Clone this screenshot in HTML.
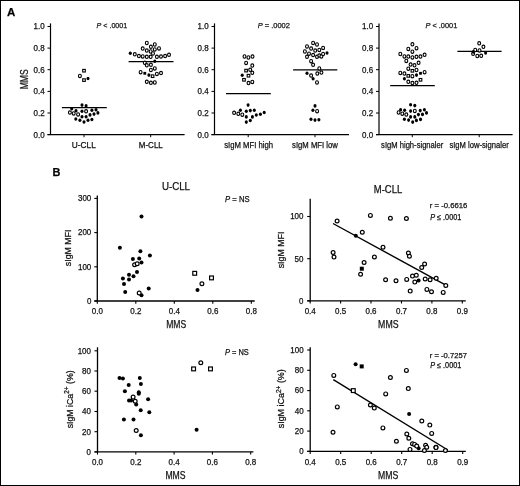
<!DOCTYPE html>
<html><head><meta charset="utf-8"><style>
html,body{margin:0;padding:0;background:#fff;}
svg{display:block;filter:grayscale(1);}
</style></head><body>
<svg width="520" height="486" viewBox="0 0 520 486" font-family='"Liberation Sans", sans-serif' fill="#111" stroke="#000">
<rect x="0" y="0" width="520" height="486" fill="#fff" stroke="none"/>
<g stroke="none">
</g>
<g>
<line x1="50.5" y1="23.4" x2="50.5" y2="134.6" stroke-width="1.2"/>
<line x1="47.5" y1="134.6" x2="184.6" y2="134.6" stroke-width="1.2"/>
<line x1="47.5" y1="134.6" x2="50.5" y2="134.6" stroke-width="1.0"/>
<text stroke="#111" stroke-width="0.25" x="44.6" y="137.5" font-size="8.6" text-anchor="end" textLength="11.1" lengthAdjust="spacingAndGlyphs">0.0</text>
<line x1="47.5" y1="113.0" x2="50.5" y2="113.0" stroke-width="1.0"/>
<text stroke="#111" stroke-width="0.25" x="44.6" y="115.9" font-size="8.6" text-anchor="end" textLength="11.1" lengthAdjust="spacingAndGlyphs">0.2</text>
<line x1="47.5" y1="91.4" x2="50.5" y2="91.4" stroke-width="1.0"/>
<text stroke="#111" stroke-width="0.25" x="44.6" y="94.3" font-size="8.6" text-anchor="end" textLength="11.1" lengthAdjust="spacingAndGlyphs">0.4</text>
<line x1="47.5" y1="69.7" x2="50.5" y2="69.7" stroke-width="1.0"/>
<text stroke="#111" stroke-width="0.25" x="44.6" y="72.6" font-size="8.6" text-anchor="end" textLength="11.1" lengthAdjust="spacingAndGlyphs">0.6</text>
<line x1="47.5" y1="48.1" x2="50.5" y2="48.1" stroke-width="1.0"/>
<text stroke="#111" stroke-width="0.25" x="44.6" y="51.0" font-size="8.6" text-anchor="end" textLength="11.1" lengthAdjust="spacingAndGlyphs">0.8</text>
<line x1="47.5" y1="26.5" x2="50.5" y2="26.5" stroke-width="1.0"/>
<text stroke="#111" stroke-width="0.25" x="44.6" y="29.4" font-size="8.6" text-anchor="end" textLength="11.1" lengthAdjust="spacingAndGlyphs">1.0</text>
<line x1="84.0" y1="134.6" x2="84.0" y2="137.2" stroke-width="1.0"/>
<text stroke="#111" stroke-width="0.25" x="83.8" y="147.9" font-size="8.6" text-anchor="middle" textLength="24.0" lengthAdjust="spacingAndGlyphs">U-CLL</text>
<line x1="150.7" y1="134.6" x2="150.7" y2="137.2" stroke-width="1.0"/>
<text stroke="#111" stroke-width="0.25" x="150.8" y="147.9" font-size="8.6" text-anchor="middle" textLength="24.0" lengthAdjust="spacingAndGlyphs">M-CLL</text>
<line x1="214.5" y1="23.4" x2="214.5" y2="134.6" stroke-width="1.2"/>
<line x1="211.5" y1="134.6" x2="349.0" y2="134.6" stroke-width="1.2"/>
<line x1="211.5" y1="134.6" x2="214.5" y2="134.6" stroke-width="1.0"/>
<text stroke="#111" stroke-width="0.25" x="208.6" y="137.5" font-size="8.6" text-anchor="end" textLength="11.1" lengthAdjust="spacingAndGlyphs">0.0</text>
<line x1="211.5" y1="113.0" x2="214.5" y2="113.0" stroke-width="1.0"/>
<text stroke="#111" stroke-width="0.25" x="208.6" y="115.9" font-size="8.6" text-anchor="end" textLength="11.1" lengthAdjust="spacingAndGlyphs">0.2</text>
<line x1="211.5" y1="91.4" x2="214.5" y2="91.4" stroke-width="1.0"/>
<text stroke="#111" stroke-width="0.25" x="208.6" y="94.3" font-size="8.6" text-anchor="end" textLength="11.1" lengthAdjust="spacingAndGlyphs">0.4</text>
<line x1="211.5" y1="69.7" x2="214.5" y2="69.7" stroke-width="1.0"/>
<text stroke="#111" stroke-width="0.25" x="208.6" y="72.6" font-size="8.6" text-anchor="end" textLength="11.1" lengthAdjust="spacingAndGlyphs">0.6</text>
<line x1="211.5" y1="48.1" x2="214.5" y2="48.1" stroke-width="1.0"/>
<text stroke="#111" stroke-width="0.25" x="208.6" y="51.0" font-size="8.6" text-anchor="end" textLength="11.1" lengthAdjust="spacingAndGlyphs">0.8</text>
<line x1="211.5" y1="26.5" x2="214.5" y2="26.5" stroke-width="1.0"/>
<text stroke="#111" stroke-width="0.25" x="208.6" y="29.4" font-size="8.6" text-anchor="end" textLength="11.1" lengthAdjust="spacingAndGlyphs">1.0</text>
<line x1="248.2" y1="134.6" x2="248.2" y2="137.2" stroke-width="1.0"/>
<text stroke="#111" stroke-width="0.25" x="248.6" y="147.9" font-size="8.6" text-anchor="middle" textLength="48.9" lengthAdjust="spacingAndGlyphs">sIgM MFI high</text>
<line x1="315.0" y1="134.6" x2="315.0" y2="137.2" stroke-width="1.0"/>
<text stroke="#111" stroke-width="0.25" x="315.0" y="147.9" font-size="8.6" text-anchor="middle" textLength="45.8" lengthAdjust="spacingAndGlyphs">sIgM MFI low</text>
<line x1="379.0" y1="23.4" x2="379.0" y2="134.6" stroke-width="1.2"/>
<line x1="376.0" y1="134.6" x2="512.6" y2="134.6" stroke-width="1.2"/>
<line x1="376.0" y1="134.6" x2="379.0" y2="134.6" stroke-width="1.0"/>
<text stroke="#111" stroke-width="0.25" x="373.1" y="137.5" font-size="8.6" text-anchor="end" textLength="11.1" lengthAdjust="spacingAndGlyphs">0.0</text>
<line x1="376.0" y1="113.0" x2="379.0" y2="113.0" stroke-width="1.0"/>
<text stroke="#111" stroke-width="0.25" x="373.1" y="115.9" font-size="8.6" text-anchor="end" textLength="11.1" lengthAdjust="spacingAndGlyphs">0.2</text>
<line x1="376.0" y1="91.4" x2="379.0" y2="91.4" stroke-width="1.0"/>
<text stroke="#111" stroke-width="0.25" x="373.1" y="94.3" font-size="8.6" text-anchor="end" textLength="11.1" lengthAdjust="spacingAndGlyphs">0.4</text>
<line x1="376.0" y1="69.7" x2="379.0" y2="69.7" stroke-width="1.0"/>
<text stroke="#111" stroke-width="0.25" x="373.1" y="72.6" font-size="8.6" text-anchor="end" textLength="11.1" lengthAdjust="spacingAndGlyphs">0.6</text>
<line x1="376.0" y1="48.1" x2="379.0" y2="48.1" stroke-width="1.0"/>
<text stroke="#111" stroke-width="0.25" x="373.1" y="51.0" font-size="8.6" text-anchor="end" textLength="11.1" lengthAdjust="spacingAndGlyphs">0.8</text>
<line x1="376.0" y1="26.5" x2="379.0" y2="26.5" stroke-width="1.0"/>
<text stroke="#111" stroke-width="0.25" x="373.1" y="29.4" font-size="8.6" text-anchor="end" textLength="11.1" lengthAdjust="spacingAndGlyphs">1.0</text>
<line x1="412.3" y1="134.6" x2="412.3" y2="137.2" stroke-width="1.0"/>
<text stroke="#111" stroke-width="0.25" x="412.2" y="147.9" font-size="8.6" text-anchor="middle" textLength="62.2" lengthAdjust="spacingAndGlyphs">sIgM high-signaler</text>
<line x1="479.2" y1="134.6" x2="479.2" y2="137.2" stroke-width="1.0"/>
<text stroke="#111" stroke-width="0.25" x="479.1" y="147.9" font-size="8.6" text-anchor="middle" textLength="59.3" lengthAdjust="spacingAndGlyphs">sIgM low-signaler</text>
<text stroke="#111" stroke-width="0.25" x="7.0" y="15.6" font-size="11.5" font-weight="bold" fill="#000">A</text>
<text stroke="#111" stroke-width="0.25" transform="translate(28.1,89.3) rotate(-90)" font-size="10.2" textLength="20.1" lengthAdjust="spacingAndGlyphs">MMS</text>
<text stroke="#111" stroke-width="0.25" x="96.5" y="28.0" font-size="8.0" textLength="30.8" lengthAdjust="spacingAndGlyphs"><tspan font-style="italic">P</tspan> &lt; .0001</text>
<text stroke="#111" stroke-width="0.25" x="257.7" y="28.2" font-size="8.0" textLength="32.2" lengthAdjust="spacingAndGlyphs"><tspan font-style="italic">P</tspan> = .0002</text>
<text stroke="#111" stroke-width="0.25" x="425.4" y="28.0" font-size="8.0" textLength="31.9" lengthAdjust="spacingAndGlyphs"><tspan font-style="italic">P</tspan> &lt; .0001</text>
<line x1="61.9" y1="107.7" x2="106.8" y2="107.7" stroke-width="1.25"/>
<line x1="128.6" y1="61.5" x2="173.5" y2="61.5" stroke-width="1.25"/>
<line x1="226.0" y1="93.7" x2="270.8" y2="93.7" stroke-width="1.2"/>
<line x1="293.1" y1="69.8" x2="337.3" y2="69.8" stroke-width="1.2"/>
<line x1="390.2" y1="85.6" x2="434.8" y2="85.6" stroke-width="1.2"/>
<line x1="457.4" y1="51.3" x2="501.6" y2="51.3" stroke-width="1.2"/>
<ellipse cx="69.9" cy="112.6" rx="1.45" ry="1.7" fill="#fff" stroke-width="1.1"/>
<ellipse cx="73.7" cy="113.4" rx="1.45" ry="1.7" fill="#fff" stroke-width="1.1"/>
<ellipse cx="78.1" cy="114.4" rx="1.45" ry="1.7" fill="#fff" stroke-width="1.1"/>
<ellipse cx="86.1" cy="111.3" rx="1.45" ry="1.7" fill="#fff" stroke-width="1.1"/>
<ellipse cx="71.7" cy="108.7" rx="1.55" ry="1.8" fill="#000" stroke="none"/>
<ellipse cx="76.0" cy="110.8" rx="1.55" ry="1.8" fill="#000" stroke="none"/>
<ellipse cx="82.0" cy="105.1" rx="1.55" ry="1.8" fill="#000" stroke="none"/>
<ellipse cx="86.1" cy="105.9" rx="1.55" ry="1.8" fill="#000" stroke="none"/>
<ellipse cx="82.0" cy="111.3" rx="1.55" ry="1.8" fill="#000" stroke="none"/>
<ellipse cx="91.9" cy="110.3" rx="1.55" ry="1.8" fill="#000" stroke="none"/>
<ellipse cx="96.0" cy="109.8" rx="1.55" ry="1.8" fill="#000" stroke="none"/>
<ellipse cx="97.9" cy="112.9" rx="1.55" ry="1.8" fill="#000" stroke="none"/>
<ellipse cx="90.0" cy="114.9" rx="1.55" ry="1.8" fill="#000" stroke="none"/>
<ellipse cx="94.0" cy="114.1" rx="1.55" ry="1.8" fill="#000" stroke="none"/>
<ellipse cx="82.0" cy="116.7" rx="1.55" ry="1.8" fill="#000" stroke="none"/>
<ellipse cx="86.1" cy="116.7" rx="1.55" ry="1.8" fill="#000" stroke="none"/>
<ellipse cx="75.8" cy="119.0" rx="1.55" ry="1.8" fill="#000" stroke="none"/>
<ellipse cx="79.9" cy="120.2" rx="1.55" ry="1.8" fill="#000" stroke="none"/>
<ellipse cx="84.0" cy="122.0" rx="1.55" ry="1.8" fill="#000" stroke="none"/>
<ellipse cx="88.0" cy="120.3" rx="1.55" ry="1.8" fill="#000" stroke="none"/>
<ellipse cx="91.9" cy="119.5" rx="1.55" ry="1.8" fill="#000" stroke="none"/>
<ellipse cx="79.9" cy="75.9" rx="1.45" ry="1.7" fill="#fff" stroke-width="1.1"/>
<rect x="82.7" y="69.4" width="2.6" height="2.6" fill="#fff" stroke-width="1.1"/>
<rect x="82.7" y="78.8" width="2.6" height="2.6" fill="#fff" stroke-width="1.1"/>
<ellipse cx="88.0" cy="78.5" rx="1.55" ry="1.8" fill="#000" stroke="none"/>
<ellipse cx="146.8" cy="43.0" rx="1.45" ry="1.7" fill="#fff" stroke-width="1.1"/>
<ellipse cx="154.8" cy="44.5" rx="1.45" ry="1.7" fill="#fff" stroke-width="1.1"/>
<ellipse cx="150.9" cy="46.8" rx="1.45" ry="1.7" fill="#fff" stroke-width="1.1"/>
<ellipse cx="142.7" cy="48.6" rx="1.45" ry="1.7" fill="#fff" stroke-width="1.1"/>
<ellipse cx="154.8" cy="49.4" rx="1.45" ry="1.7" fill="#fff" stroke-width="1.1"/>
<ellipse cx="159.0" cy="48.4" rx="1.45" ry="1.7" fill="#fff" stroke-width="1.1"/>
<ellipse cx="146.8" cy="50.6" rx="1.45" ry="1.7" fill="#fff" stroke-width="1.1"/>
<ellipse cx="150.7" cy="51.5" rx="1.45" ry="1.7" fill="#fff" stroke-width="1.1"/>
<ellipse cx="153.0" cy="53.5" rx="1.45" ry="1.7" fill="#fff" stroke-width="1.1"/>
<ellipse cx="134.8" cy="54.3" rx="1.45" ry="1.7" fill="#fff" stroke-width="1.1"/>
<ellipse cx="138.9" cy="56.1" rx="1.45" ry="1.7" fill="#fff" stroke-width="1.1"/>
<ellipse cx="142.7" cy="56.4" rx="1.45" ry="1.7" fill="#fff" stroke-width="1.1"/>
<ellipse cx="146.8" cy="56.8" rx="1.45" ry="1.7" fill="#fff" stroke-width="1.1"/>
<ellipse cx="150.7" cy="56.8" rx="1.45" ry="1.7" fill="#fff" stroke-width="1.1"/>
<ellipse cx="156.9" cy="56.8" rx="1.45" ry="1.7" fill="#fff" stroke-width="1.1"/>
<ellipse cx="161.0" cy="56.6" rx="1.45" ry="1.7" fill="#fff" stroke-width="1.1"/>
<ellipse cx="165.1" cy="56.1" rx="1.45" ry="1.7" fill="#fff" stroke-width="1.1"/>
<ellipse cx="169.0" cy="54.8" rx="1.45" ry="1.7" fill="#fff" stroke-width="1.1"/>
<ellipse cx="144.8" cy="62.8" rx="1.45" ry="1.7" fill="#fff" stroke-width="1.1"/>
<ellipse cx="146.8" cy="65.3" rx="1.45" ry="1.7" fill="#fff" stroke-width="1.1"/>
<ellipse cx="150.9" cy="64.8" rx="1.45" ry="1.7" fill="#fff" stroke-width="1.1"/>
<ellipse cx="150.9" cy="70.0" rx="1.45" ry="1.7" fill="#fff" stroke-width="1.1"/>
<ellipse cx="154.8" cy="68.4" rx="1.45" ry="1.7" fill="#fff" stroke-width="1.1"/>
<ellipse cx="140.6" cy="72.2" rx="1.45" ry="1.7" fill="#fff" stroke-width="1.1"/>
<ellipse cx="156.9" cy="73.9" rx="1.45" ry="1.7" fill="#fff" stroke-width="1.1"/>
<ellipse cx="161.0" cy="73.1" rx="1.45" ry="1.7" fill="#fff" stroke-width="1.1"/>
<ellipse cx="146.8" cy="81.8" rx="1.45" ry="1.7" fill="#fff" stroke-width="1.1"/>
<ellipse cx="150.9" cy="82.8" rx="1.45" ry="1.7" fill="#fff" stroke-width="1.1"/>
<ellipse cx="154.8" cy="82.5" rx="1.45" ry="1.7" fill="#fff" stroke-width="1.1"/>
<ellipse cx="130.3" cy="53.3" rx="1.55" ry="1.8" fill="#000" stroke="none"/>
<ellipse cx="154.8" cy="61.2" rx="1.55" ry="1.8" fill="#000" stroke="none"/>
<ellipse cx="148.9" cy="75.1" rx="1.55" ry="1.8" fill="#000" stroke="none"/>
<rect x="143.4" y="71.9" width="2.8" height="2.8" fill="#000" stroke="none"/>
<rect x="151.3" y="74.9" width="2.6" height="2.6" fill="#fff" stroke-width="1.1"/>
<ellipse cx="244.5" cy="56.5" rx="1.45" ry="1.7" fill="#fff" stroke-width="1.1"/>
<ellipse cx="248.4" cy="57.5" rx="1.45" ry="1.7" fill="#fff" stroke-width="1.1"/>
<ellipse cx="252.5" cy="56.6" rx="1.45" ry="1.7" fill="#fff" stroke-width="1.1"/>
<ellipse cx="246.1" cy="62.9" rx="1.45" ry="1.7" fill="#fff" stroke-width="1.1"/>
<ellipse cx="252.3" cy="65.6" rx="1.45" ry="1.7" fill="#fff" stroke-width="1.1"/>
<ellipse cx="250.2" cy="69.8" rx="1.45" ry="1.7" fill="#fff" stroke-width="1.1"/>
<ellipse cx="252.3" cy="72.8" rx="1.45" ry="1.7" fill="#fff" stroke-width="1.1"/>
<ellipse cx="248.5" cy="83.1" rx="1.45" ry="1.7" fill="#fff" stroke-width="1.1"/>
<ellipse cx="252.3" cy="81.9" rx="1.45" ry="1.7" fill="#fff" stroke-width="1.1"/>
<rect x="244.8" y="69.3" width="2.6" height="2.6" fill="#fff" stroke-width="1.1"/>
<rect x="247.2" y="74.4" width="2.6" height="2.6" fill="#fff" stroke-width="1.1"/>
<rect x="242.7" y="78.5" width="2.6" height="2.6" fill="#fff" stroke-width="1.1"/>
<ellipse cx="242.2" cy="75.2" rx="1.55" ry="1.8" fill="#000" stroke="none"/>
<ellipse cx="234.1" cy="112.8" rx="1.45" ry="1.7" fill="#fff" stroke-width="1.1"/>
<ellipse cx="238.3" cy="113.8" rx="1.45" ry="1.7" fill="#fff" stroke-width="1.1"/>
<ellipse cx="242.3" cy="114.7" rx="1.45" ry="1.7" fill="#fff" stroke-width="1.1"/>
<ellipse cx="248.1" cy="105.1" rx="1.55" ry="1.8" fill="#000" stroke="none"/>
<ellipse cx="240.4" cy="110.2" rx="1.55" ry="1.8" fill="#000" stroke="none"/>
<ellipse cx="246.3" cy="111.3" rx="1.55" ry="1.8" fill="#000" stroke="none"/>
<ellipse cx="250.3" cy="110.6" rx="1.55" ry="1.8" fill="#000" stroke="none"/>
<ellipse cx="254.3" cy="110.2" rx="1.55" ry="1.8" fill="#000" stroke="none"/>
<ellipse cx="246.3" cy="116.9" rx="1.55" ry="1.8" fill="#000" stroke="none"/>
<ellipse cx="252.4" cy="116.9" rx="1.55" ry="1.8" fill="#000" stroke="none"/>
<ellipse cx="256.3" cy="115.0" rx="1.55" ry="1.8" fill="#000" stroke="none"/>
<ellipse cx="260.4" cy="114.2" rx="1.55" ry="1.8" fill="#000" stroke="none"/>
<ellipse cx="264.2" cy="112.5" rx="1.55" ry="1.8" fill="#000" stroke="none"/>
<ellipse cx="246.3" cy="122.1" rx="1.55" ry="1.8" fill="#000" stroke="none"/>
<ellipse cx="250.3" cy="120.5" rx="1.55" ry="1.8" fill="#000" stroke="none"/>
<ellipse cx="313.1" cy="43.0" rx="1.45" ry="1.7" fill="#fff" stroke-width="1.1"/>
<ellipse cx="317.0" cy="44.5" rx="1.45" ry="1.7" fill="#fff" stroke-width="1.1"/>
<ellipse cx="307.0" cy="46.5" rx="1.45" ry="1.7" fill="#fff" stroke-width="1.1"/>
<ellipse cx="311.1" cy="48.6" rx="1.45" ry="1.7" fill="#fff" stroke-width="1.1"/>
<ellipse cx="315.2" cy="50.6" rx="1.45" ry="1.7" fill="#fff" stroke-width="1.1"/>
<ellipse cx="319.3" cy="49.9" rx="1.45" ry="1.7" fill="#fff" stroke-width="1.1"/>
<ellipse cx="323.1" cy="47.9" rx="1.45" ry="1.7" fill="#fff" stroke-width="1.1"/>
<ellipse cx="304.9" cy="51.5" rx="1.45" ry="1.7" fill="#fff" stroke-width="1.1"/>
<ellipse cx="309.0" cy="53.7" rx="1.45" ry="1.7" fill="#fff" stroke-width="1.1"/>
<ellipse cx="307.0" cy="56.8" rx="1.45" ry="1.7" fill="#fff" stroke-width="1.1"/>
<ellipse cx="313.1" cy="55.1" rx="1.45" ry="1.7" fill="#fff" stroke-width="1.1"/>
<ellipse cx="317.0" cy="56.8" rx="1.45" ry="1.7" fill="#fff" stroke-width="1.1"/>
<ellipse cx="319.3" cy="55.6" rx="1.45" ry="1.7" fill="#fff" stroke-width="1.1"/>
<ellipse cx="321.4" cy="56.4" rx="1.45" ry="1.7" fill="#fff" stroke-width="1.1"/>
<ellipse cx="323.1" cy="54.0" rx="1.45" ry="1.7" fill="#fff" stroke-width="1.1"/>
<ellipse cx="311.1" cy="61.2" rx="1.45" ry="1.7" fill="#fff" stroke-width="1.1"/>
<ellipse cx="313.1" cy="64.8" rx="1.45" ry="1.7" fill="#fff" stroke-width="1.1"/>
<ellipse cx="319.3" cy="68.4" rx="1.45" ry="1.7" fill="#fff" stroke-width="1.1"/>
<ellipse cx="317.3" cy="73.6" rx="1.45" ry="1.7" fill="#fff" stroke-width="1.1"/>
<ellipse cx="321.4" cy="72.6" rx="1.45" ry="1.7" fill="#fff" stroke-width="1.1"/>
<ellipse cx="311.1" cy="75.6" rx="1.45" ry="1.7" fill="#fff" stroke-width="1.1"/>
<ellipse cx="317.0" cy="82.5" rx="1.45" ry="1.7" fill="#fff" stroke-width="1.1"/>
<ellipse cx="317.1" cy="111.2" rx="1.45" ry="1.7" fill="#fff" stroke-width="1.1"/>
<ellipse cx="327.0" cy="53.0" rx="1.55" ry="1.8" fill="#000" stroke="none"/>
<ellipse cx="307.0" cy="73.3" rx="1.55" ry="1.8" fill="#000" stroke="none"/>
<ellipse cx="313.1" cy="78.7" rx="1.55" ry="1.8" fill="#000" stroke="none"/>
<ellipse cx="315.0" cy="105.9" rx="1.55" ry="1.8" fill="#000" stroke="none"/>
<ellipse cx="312.9" cy="110.2" rx="1.55" ry="1.8" fill="#000" stroke="none"/>
<ellipse cx="311.0" cy="119.3" rx="1.55" ry="1.8" fill="#000" stroke="none"/>
<ellipse cx="315.0" cy="120.1" rx="1.55" ry="1.8" fill="#000" stroke="none"/>
<ellipse cx="318.9" cy="119.7" rx="1.55" ry="1.8" fill="#000" stroke="none"/>
<ellipse cx="412.4" cy="44.3" rx="1.45" ry="1.7" fill="#fff" stroke-width="1.1"/>
<ellipse cx="408.3" cy="48.9" rx="1.45" ry="1.7" fill="#fff" stroke-width="1.1"/>
<ellipse cx="416.5" cy="48.2" rx="1.45" ry="1.7" fill="#fff" stroke-width="1.1"/>
<ellipse cx="412.4" cy="51.7" rx="1.45" ry="1.7" fill="#fff" stroke-width="1.1"/>
<ellipse cx="400.3" cy="54.0" rx="1.45" ry="1.7" fill="#fff" stroke-width="1.1"/>
<ellipse cx="404.4" cy="56.4" rx="1.45" ry="1.7" fill="#fff" stroke-width="1.1"/>
<ellipse cx="408.3" cy="56.6" rx="1.45" ry="1.7" fill="#fff" stroke-width="1.1"/>
<ellipse cx="412.4" cy="57.4" rx="1.45" ry="1.7" fill="#fff" stroke-width="1.1"/>
<ellipse cx="416.5" cy="56.8" rx="1.45" ry="1.7" fill="#fff" stroke-width="1.1"/>
<ellipse cx="420.5" cy="56.6" rx="1.45" ry="1.7" fill="#fff" stroke-width="1.1"/>
<ellipse cx="424.6" cy="54.8" rx="1.45" ry="1.7" fill="#fff" stroke-width="1.1"/>
<ellipse cx="406.3" cy="60.9" rx="1.45" ry="1.7" fill="#fff" stroke-width="1.1"/>
<ellipse cx="410.6" cy="64.6" rx="1.45" ry="1.7" fill="#fff" stroke-width="1.1"/>
<ellipse cx="414.5" cy="65.3" rx="1.45" ry="1.7" fill="#fff" stroke-width="1.1"/>
<ellipse cx="418.6" cy="62.8" rx="1.45" ry="1.7" fill="#fff" stroke-width="1.1"/>
<ellipse cx="408.3" cy="68.7" rx="1.45" ry="1.7" fill="#fff" stroke-width="1.1"/>
<ellipse cx="416.5" cy="70.0" rx="1.45" ry="1.7" fill="#fff" stroke-width="1.1"/>
<ellipse cx="400.3" cy="72.9" rx="1.45" ry="1.7" fill="#fff" stroke-width="1.1"/>
<ellipse cx="404.4" cy="73.6" rx="1.45" ry="1.7" fill="#fff" stroke-width="1.1"/>
<ellipse cx="412.4" cy="76.2" rx="1.45" ry="1.7" fill="#fff" stroke-width="1.1"/>
<ellipse cx="424.6" cy="72.2" rx="1.45" ry="1.7" fill="#fff" stroke-width="1.1"/>
<ellipse cx="408.3" cy="81.8" rx="1.45" ry="1.7" fill="#fff" stroke-width="1.1"/>
<ellipse cx="412.4" cy="83.1" rx="1.45" ry="1.7" fill="#fff" stroke-width="1.1"/>
<ellipse cx="416.5" cy="82.8" rx="1.45" ry="1.7" fill="#fff" stroke-width="1.1"/>
<rect x="411.1" y="69.5" width="2.6" height="2.6" fill="#fff" stroke-width="1.1"/>
<rect x="407.0" y="74.6" width="2.6" height="2.6" fill="#fff" stroke-width="1.1"/>
<rect x="419.2" y="78.5" width="2.6" height="2.6" fill="#fff" stroke-width="1.1"/>
<ellipse cx="416.5" cy="75.1" rx="1.55" ry="1.8" fill="#000" stroke="none"/>
<ellipse cx="404.4" cy="78.7" rx="1.55" ry="1.8" fill="#000" stroke="none"/>
<rect x="419.1" y="71.9" width="2.8" height="2.8" fill="#000" stroke="none"/>
<ellipse cx="398.6" cy="112.5" rx="1.45" ry="1.7" fill="#fff" stroke-width="1.1"/>
<ellipse cx="402.3" cy="113.7" rx="1.45" ry="1.7" fill="#fff" stroke-width="1.1"/>
<ellipse cx="406.3" cy="114.6" rx="1.45" ry="1.7" fill="#fff" stroke-width="1.1"/>
<ellipse cx="414.8" cy="110.9" rx="1.45" ry="1.7" fill="#fff" stroke-width="1.1"/>
<ellipse cx="410.6" cy="104.8" rx="1.55" ry="1.8" fill="#000" stroke="none"/>
<ellipse cx="414.8" cy="105.6" rx="1.55" ry="1.8" fill="#000" stroke="none"/>
<ellipse cx="400.6" cy="109.8" rx="1.55" ry="1.8" fill="#000" stroke="none"/>
<ellipse cx="404.6" cy="110.2" rx="1.55" ry="1.8" fill="#000" stroke="none"/>
<ellipse cx="410.6" cy="111.1" rx="1.55" ry="1.8" fill="#000" stroke="none"/>
<ellipse cx="420.2" cy="110.6" rx="1.55" ry="1.8" fill="#000" stroke="none"/>
<ellipse cx="424.4" cy="109.8" rx="1.55" ry="1.8" fill="#000" stroke="none"/>
<ellipse cx="426.5" cy="112.9" rx="1.55" ry="1.8" fill="#000" stroke="none"/>
<ellipse cx="422.5" cy="114.4" rx="1.55" ry="1.8" fill="#000" stroke="none"/>
<ellipse cx="418.4" cy="114.6" rx="1.55" ry="1.8" fill="#000" stroke="none"/>
<ellipse cx="410.6" cy="116.9" rx="1.55" ry="1.8" fill="#000" stroke="none"/>
<ellipse cx="414.8" cy="116.9" rx="1.55" ry="1.8" fill="#000" stroke="none"/>
<ellipse cx="404.4" cy="119.2" rx="1.55" ry="1.8" fill="#000" stroke="none"/>
<ellipse cx="408.6" cy="120.1" rx="1.55" ry="1.8" fill="#000" stroke="none"/>
<ellipse cx="412.7" cy="122.1" rx="1.55" ry="1.8" fill="#000" stroke="none"/>
<ellipse cx="416.4" cy="120.4" rx="1.55" ry="1.8" fill="#000" stroke="none"/>
<ellipse cx="420.5" cy="119.4" rx="1.55" ry="1.8" fill="#000" stroke="none"/>
<ellipse cx="479.2" cy="43.3" rx="1.45" ry="1.7" fill="#fff" stroke-width="1.1"/>
<ellipse cx="483.4" cy="46.8" rx="1.45" ry="1.7" fill="#fff" stroke-width="1.1"/>
<ellipse cx="475.2" cy="50.0" rx="1.45" ry="1.7" fill="#fff" stroke-width="1.1"/>
<ellipse cx="479.5" cy="50.4" rx="1.45" ry="1.7" fill="#fff" stroke-width="1.1"/>
<ellipse cx="473.1" cy="53.8" rx="1.45" ry="1.7" fill="#fff" stroke-width="1.1"/>
<ellipse cx="477.3" cy="56.0" rx="1.45" ry="1.7" fill="#fff" stroke-width="1.1"/>
<ellipse cx="481.2" cy="55.8" rx="1.45" ry="1.7" fill="#fff" stroke-width="1.1"/>
<ellipse cx="485.6" cy="52.9" rx="1.55" ry="1.8" fill="#000" stroke="none"/>
<ellipse cx="473.3" cy="51.9" rx="1.55" ry="1.8" fill="#000" stroke="none"/>
<text stroke="#111" stroke-width="0.25" x="52.6" y="175.8" font-size="11" font-weight="bold" fill="#000">B</text>
<line x1="97.3" y1="195.5" x2="97.3" y2="301.0" stroke-width="1.3"/>
<line x1="94.3" y1="301.0" x2="254.7" y2="301.0" stroke-width="1.3"/>
<line x1="94.3" y1="301.0" x2="97.3" y2="301.0" stroke-width="1.1"/>
<text stroke="#111" stroke-width="0.25" x="91.3" y="303.8" font-size="8.6" text-anchor="end" textLength="4.4" lengthAdjust="spacingAndGlyphs">0</text>
<line x1="94.3" y1="266.8" x2="97.3" y2="266.8" stroke-width="1.1"/>
<text stroke="#111" stroke-width="0.25" x="91.3" y="269.6" font-size="8.6" text-anchor="end" textLength="13.3" lengthAdjust="spacingAndGlyphs">100</text>
<line x1="94.3" y1="232.6" x2="97.3" y2="232.6" stroke-width="1.1"/>
<text stroke="#111" stroke-width="0.25" x="91.3" y="235.4" font-size="8.6" text-anchor="end" textLength="13.3" lengthAdjust="spacingAndGlyphs">200</text>
<line x1="94.3" y1="198.4" x2="97.3" y2="198.4" stroke-width="1.1"/>
<text stroke="#111" stroke-width="0.25" x="91.3" y="201.2" font-size="8.6" text-anchor="end" textLength="13.3" lengthAdjust="spacingAndGlyphs">300</text>
<line x1="97.3" y1="301.0" x2="97.3" y2="303.7" stroke-width="1.1"/>
<text stroke="#111" stroke-width="0.25" x="97.3" y="314.2" font-size="8.6" text-anchor="middle" textLength="11.1" lengthAdjust="spacingAndGlyphs">0.0</text>
<line x1="135.8" y1="301.0" x2="135.8" y2="303.7" stroke-width="1.1"/>
<text stroke="#111" stroke-width="0.25" x="135.8" y="314.2" font-size="8.6" text-anchor="middle" textLength="11.1" lengthAdjust="spacingAndGlyphs">0.2</text>
<line x1="174.3" y1="301.0" x2="174.3" y2="303.7" stroke-width="1.1"/>
<text stroke="#111" stroke-width="0.25" x="174.3" y="314.2" font-size="8.6" text-anchor="middle" textLength="11.1" lengthAdjust="spacingAndGlyphs">0.4</text>
<line x1="212.8" y1="301.0" x2="212.8" y2="303.7" stroke-width="1.1"/>
<text stroke="#111" stroke-width="0.25" x="212.8" y="314.2" font-size="8.6" text-anchor="middle" textLength="11.1" lengthAdjust="spacingAndGlyphs">0.6</text>
<line x1="251.3" y1="301.0" x2="251.3" y2="303.7" stroke-width="1.1"/>
<text stroke="#111" stroke-width="0.25" x="251.3" y="314.2" font-size="8.6" text-anchor="middle" textLength="11.1" lengthAdjust="spacingAndGlyphs">0.8</text>
<line x1="310.2" y1="198.8" x2="310.2" y2="300.8" stroke-width="1.3"/>
<line x1="307.2" y1="300.8" x2="465.8" y2="300.8" stroke-width="1.3"/>
<line x1="307.2" y1="300.8" x2="310.2" y2="300.8" stroke-width="1.1"/>
<text stroke="#111" stroke-width="0.25" x="303.5" y="303.6" font-size="8.6" text-anchor="end" textLength="4.4" lengthAdjust="spacingAndGlyphs">0</text>
<line x1="307.2" y1="258.7" x2="310.2" y2="258.7" stroke-width="1.1"/>
<text stroke="#111" stroke-width="0.25" x="303.5" y="261.5" font-size="8.6" text-anchor="end" textLength="8.9" lengthAdjust="spacingAndGlyphs">50</text>
<line x1="307.2" y1="216.5" x2="310.2" y2="216.5" stroke-width="1.1"/>
<text stroke="#111" stroke-width="0.25" x="303.5" y="219.3" font-size="8.6" text-anchor="end" textLength="13.3" lengthAdjust="spacingAndGlyphs">100</text>
<line x1="310.2" y1="300.8" x2="310.2" y2="303.5" stroke-width="1.1"/>
<text stroke="#111" stroke-width="0.25" x="310.2" y="314.2" font-size="8.6" text-anchor="middle" textLength="11.1" lengthAdjust="spacingAndGlyphs">0.4</text>
<line x1="340.6" y1="300.8" x2="340.6" y2="303.5" stroke-width="1.1"/>
<text stroke="#111" stroke-width="0.25" x="340.6" y="314.2" font-size="8.6" text-anchor="middle" textLength="11.1" lengthAdjust="spacingAndGlyphs">0.5</text>
<line x1="371.0" y1="300.8" x2="371.0" y2="303.5" stroke-width="1.1"/>
<text stroke="#111" stroke-width="0.25" x="371.0" y="314.2" font-size="8.6" text-anchor="middle" textLength="11.1" lengthAdjust="spacingAndGlyphs">0.6</text>
<line x1="401.5" y1="300.8" x2="401.5" y2="303.5" stroke-width="1.1"/>
<text stroke="#111" stroke-width="0.25" x="401.5" y="314.2" font-size="8.6" text-anchor="middle" textLength="11.1" lengthAdjust="spacingAndGlyphs">0.7</text>
<line x1="431.9" y1="300.8" x2="431.9" y2="303.5" stroke-width="1.1"/>
<text stroke="#111" stroke-width="0.25" x="431.9" y="314.2" font-size="8.6" text-anchor="middle" textLength="11.1" lengthAdjust="spacingAndGlyphs">0.8</text>
<line x1="462.3" y1="300.8" x2="462.3" y2="303.5" stroke-width="1.1"/>
<text stroke="#111" stroke-width="0.25" x="462.3" y="314.2" font-size="8.6" text-anchor="middle" textLength="11.1" lengthAdjust="spacingAndGlyphs">0.9</text>
<line x1="97.5" y1="347.3" x2="97.5" y2="451.9" stroke-width="1.3"/>
<line x1="94.5" y1="451.9" x2="253.4" y2="451.9" stroke-width="1.3"/>
<line x1="94.5" y1="451.9" x2="97.5" y2="451.9" stroke-width="1.1"/>
<text stroke="#111" stroke-width="0.25" x="91.0" y="454.7" font-size="8.6" text-anchor="end" textLength="4.4" lengthAdjust="spacingAndGlyphs">0</text>
<line x1="94.5" y1="431.7" x2="97.5" y2="431.7" stroke-width="1.1"/>
<text stroke="#111" stroke-width="0.25" x="91.0" y="434.5" font-size="8.6" text-anchor="end" textLength="8.9" lengthAdjust="spacingAndGlyphs">20</text>
<line x1="94.5" y1="411.5" x2="97.5" y2="411.5" stroke-width="1.1"/>
<text stroke="#111" stroke-width="0.25" x="91.0" y="414.3" font-size="8.6" text-anchor="end" textLength="8.9" lengthAdjust="spacingAndGlyphs">40</text>
<line x1="94.5" y1="391.2" x2="97.5" y2="391.2" stroke-width="1.1"/>
<text stroke="#111" stroke-width="0.25" x="91.0" y="394.0" font-size="8.6" text-anchor="end" textLength="8.9" lengthAdjust="spacingAndGlyphs">60</text>
<line x1="94.5" y1="371.0" x2="97.5" y2="371.0" stroke-width="1.1"/>
<text stroke="#111" stroke-width="0.25" x="91.0" y="373.8" font-size="8.6" text-anchor="end" textLength="8.9" lengthAdjust="spacingAndGlyphs">80</text>
<line x1="94.5" y1="350.8" x2="97.5" y2="350.8" stroke-width="1.1"/>
<text stroke="#111" stroke-width="0.25" x="91.0" y="353.6" font-size="8.6" text-anchor="end" textLength="13.3" lengthAdjust="spacingAndGlyphs">100</text>
<line x1="97.5" y1="451.9" x2="97.5" y2="454.6" stroke-width="1.1"/>
<text stroke="#111" stroke-width="0.25" x="97.5" y="465.2" font-size="8.6" text-anchor="middle" textLength="11.1" lengthAdjust="spacingAndGlyphs">0.0</text>
<line x1="135.8" y1="451.9" x2="135.8" y2="454.6" stroke-width="1.1"/>
<text stroke="#111" stroke-width="0.25" x="135.8" y="465.2" font-size="8.6" text-anchor="middle" textLength="11.1" lengthAdjust="spacingAndGlyphs">0.2</text>
<line x1="174.1" y1="451.9" x2="174.1" y2="454.6" stroke-width="1.1"/>
<text stroke="#111" stroke-width="0.25" x="174.1" y="465.2" font-size="8.6" text-anchor="middle" textLength="11.1" lengthAdjust="spacingAndGlyphs">0.4</text>
<line x1="212.4" y1="451.9" x2="212.4" y2="454.6" stroke-width="1.1"/>
<text stroke="#111" stroke-width="0.25" x="212.4" y="465.2" font-size="8.6" text-anchor="middle" textLength="11.1" lengthAdjust="spacingAndGlyphs">0.6</text>
<line x1="250.7" y1="451.9" x2="250.7" y2="454.6" stroke-width="1.1"/>
<text stroke="#111" stroke-width="0.25" x="250.7" y="465.2" font-size="8.6" text-anchor="middle" textLength="11.1" lengthAdjust="spacingAndGlyphs">0.8</text>
<line x1="310.2" y1="347.3" x2="310.2" y2="451.4" stroke-width="1.3"/>
<line x1="307.2" y1="451.4" x2="465.8" y2="451.4" stroke-width="1.3"/>
<line x1="307.2" y1="451.4" x2="310.2" y2="451.4" stroke-width="1.1"/>
<text stroke="#111" stroke-width="0.25" x="303.6" y="454.2" font-size="8.6" text-anchor="end" textLength="4.4" lengthAdjust="spacingAndGlyphs">0</text>
<line x1="307.2" y1="431.1" x2="310.2" y2="431.1" stroke-width="1.1"/>
<text stroke="#111" stroke-width="0.25" x="303.6" y="433.9" font-size="8.6" text-anchor="end" textLength="8.9" lengthAdjust="spacingAndGlyphs">20</text>
<line x1="307.2" y1="410.8" x2="310.2" y2="410.8" stroke-width="1.1"/>
<text stroke="#111" stroke-width="0.25" x="303.6" y="413.6" font-size="8.6" text-anchor="end" textLength="8.9" lengthAdjust="spacingAndGlyphs">40</text>
<line x1="307.2" y1="390.6" x2="310.2" y2="390.6" stroke-width="1.1"/>
<text stroke="#111" stroke-width="0.25" x="303.6" y="393.4" font-size="8.6" text-anchor="end" textLength="8.9" lengthAdjust="spacingAndGlyphs">60</text>
<line x1="307.2" y1="370.3" x2="310.2" y2="370.3" stroke-width="1.1"/>
<text stroke="#111" stroke-width="0.25" x="303.6" y="373.1" font-size="8.6" text-anchor="end" textLength="8.9" lengthAdjust="spacingAndGlyphs">80</text>
<line x1="307.2" y1="350.0" x2="310.2" y2="350.0" stroke-width="1.1"/>
<text stroke="#111" stroke-width="0.25" x="303.6" y="352.8" font-size="8.6" text-anchor="end" textLength="13.3" lengthAdjust="spacingAndGlyphs">100</text>
<line x1="310.2" y1="451.4" x2="310.2" y2="454.1" stroke-width="1.1"/>
<text stroke="#111" stroke-width="0.25" x="310.2" y="465.1" font-size="8.6" text-anchor="middle" textLength="11.1" lengthAdjust="spacingAndGlyphs">0.4</text>
<line x1="340.7" y1="451.4" x2="340.7" y2="454.1" stroke-width="1.1"/>
<text stroke="#111" stroke-width="0.25" x="340.7" y="465.1" font-size="8.6" text-anchor="middle" textLength="11.1" lengthAdjust="spacingAndGlyphs">0.5</text>
<line x1="371.2" y1="451.4" x2="371.2" y2="454.1" stroke-width="1.1"/>
<text stroke="#111" stroke-width="0.25" x="371.2" y="465.1" font-size="8.6" text-anchor="middle" textLength="11.1" lengthAdjust="spacingAndGlyphs">0.6</text>
<line x1="401.7" y1="451.4" x2="401.7" y2="454.1" stroke-width="1.1"/>
<text stroke="#111" stroke-width="0.25" x="401.7" y="465.1" font-size="8.6" text-anchor="middle" textLength="11.1" lengthAdjust="spacingAndGlyphs">0.7</text>
<line x1="432.2" y1="451.4" x2="432.2" y2="454.1" stroke-width="1.1"/>
<text stroke="#111" stroke-width="0.25" x="432.2" y="465.1" font-size="8.6" text-anchor="middle" textLength="11.1" lengthAdjust="spacingAndGlyphs">0.8</text>
<line x1="462.7" y1="451.4" x2="462.7" y2="454.1" stroke-width="1.1"/>
<text stroke="#111" stroke-width="0.25" x="462.7" y="465.1" font-size="8.6" text-anchor="middle" textLength="11.1" lengthAdjust="spacingAndGlyphs">0.9</text>
<text stroke="#111" stroke-width="0.25" x="161.9" y="190.3" font-size="10.4" textLength="28.1" lengthAdjust="spacingAndGlyphs">U-CLL</text>
<text stroke="#111" stroke-width="0.25" x="373.8" y="193.4" font-size="10.4" textLength="28.4" lengthAdjust="spacingAndGlyphs">M-CLL</text>
<text stroke="#111" stroke-width="0.25" x="225.0" y="202.1" font-size="8.2" textLength="24.6" lengthAdjust="spacingAndGlyphs"><tspan font-style="italic">P</tspan> = NS</text>
<text stroke="#111" stroke-width="0.25" x="225.0" y="354.6" font-size="8.2" textLength="23.8" lengthAdjust="spacingAndGlyphs"><tspan font-style="italic">P</tspan> = NS</text>
<text stroke="#111" stroke-width="0.25" x="429.8" y="207.8" font-size="8.1" textLength="37.6" lengthAdjust="spacingAndGlyphs">r = -0.6616</text>
<text stroke="#111" stroke-width="0.25" x="430.2" y="219.6" font-size="8.2" textLength="31.1" lengthAdjust="spacingAndGlyphs"><tspan font-style="italic">P</tspan> &#8804; .0001</text>
<text stroke="#111" stroke-width="0.25" x="429.8" y="358.3" font-size="8.1" textLength="37.2" lengthAdjust="spacingAndGlyphs">r = -0.7257</text>
<text stroke="#111" stroke-width="0.25" x="430.2" y="367.8" font-size="8.2" textLength="31.1" lengthAdjust="spacingAndGlyphs"><tspan font-style="italic">P</tspan> &#8804; .0001</text>
<text stroke="#111" stroke-width="0.25" x="166.2" y="327.6" font-size="10.6" textLength="20.0" lengthAdjust="spacingAndGlyphs">MMS</text>
<text stroke="#111" stroke-width="0.25" x="378.1" y="327.6" font-size="10.6" textLength="20.4" lengthAdjust="spacingAndGlyphs">MMS</text>
<text stroke="#111" stroke-width="0.25" x="165.4" y="478.6" font-size="10.6" textLength="20.2" lengthAdjust="spacingAndGlyphs">MMS</text>
<text stroke="#111" stroke-width="0.25" x="378.0" y="478.6" font-size="10.6" textLength="20.2" lengthAdjust="spacingAndGlyphs">MMS</text>
<text stroke="#111" stroke-width="0.25" transform="translate(71.4,266.2) rotate(-90)" font-size="8.6" textLength="36.6" lengthAdjust="spacingAndGlyphs">sIgM MFI</text>
<text stroke="#111" stroke-width="0.25" transform="translate(284.2,268.3) rotate(-90)" font-size="8.6" textLength="36.7" lengthAdjust="spacingAndGlyphs">sIgM MFI</text>
<text stroke="#111" stroke-width="0.25" transform="translate(72.9,428.3) rotate(-90)" font-size="8.6" textLength="57.9" lengthAdjust="spacingAndGlyphs">sIgM iCa<tspan font-size="6.3" dy="-3.6">2+</tspan><tspan dy="3.6"> (%)</tspan></text>
<text stroke="#111" stroke-width="0.25" transform="translate(284.4,428.3) rotate(-90)" font-size="8.6" textLength="59.1" lengthAdjust="spacingAndGlyphs">sIgM iCa<tspan font-size="6.3" dy="-3.6">2+</tspan><tspan dy="3.6"> (%)</tspan></text>
<line x1="333.0" y1="223.5" x2="445.8" y2="285.1" stroke-width="1.4"/>
<line x1="333.3" y1="379.7" x2="447.8" y2="450.0" stroke-width="1.4"/>
<circle cx="141.5" cy="216.5" r="2.0" fill="#000" stroke="none"/>
<circle cx="119.9" cy="247.8" r="2.0" fill="#000" stroke="none"/>
<circle cx="140.4" cy="251.2" r="2.0" fill="#000" stroke="none"/>
<circle cx="149.9" cy="255.5" r="2.0" fill="#000" stroke="none"/>
<circle cx="132.9" cy="259.0" r="2.0" fill="#000" stroke="none"/>
<circle cx="139.2" cy="258.5" r="2.0" fill="#000" stroke="none"/>
<circle cx="141.5" cy="262.6" r="2.0" fill="#000" stroke="none"/>
<circle cx="137.0" cy="272.1" r="2.0" fill="#000" stroke="none"/>
<circle cx="129.0" cy="274.8" r="2.0" fill="#000" stroke="none"/>
<circle cx="133.5" cy="276.2" r="2.0" fill="#000" stroke="none"/>
<circle cx="122.9" cy="278.4" r="2.0" fill="#000" stroke="none"/>
<circle cx="129.0" cy="279.4" r="2.0" fill="#000" stroke="none"/>
<circle cx="124.0" cy="283.9" r="2.0" fill="#000" stroke="none"/>
<circle cx="148.7" cy="288.4" r="2.0" fill="#000" stroke="none"/>
<circle cx="125.2" cy="292.0" r="2.0" fill="#000" stroke="none"/>
<circle cx="141.5" cy="295.2" r="2.0" fill="#000" stroke="none"/>
<circle cx="197.5" cy="290.0" r="2.0" fill="#000" stroke="none"/>
<circle cx="134.6" cy="264.7" r="1.9" fill="#fff" stroke-width="1.2"/>
<circle cx="137.2" cy="263.7" r="1.9" fill="#fff" stroke-width="1.2"/>
<circle cx="139.2" cy="293.0" r="1.9" fill="#fff" stroke-width="1.2"/>
<circle cx="201.9" cy="283.7" r="1.9" fill="#fff" stroke-width="1.2"/>
<rect x="192.8" y="271.4" width="3.8" height="3.8" fill="#fff" stroke-width="1.2"/>
<rect x="209.6" y="276.0" width="3.8" height="3.8" fill="#fff" stroke-width="1.2"/>
<circle cx="337.1" cy="221.0" r="1.9" fill="#fff" stroke-width="1.2"/>
<circle cx="370.4" cy="215.4" r="1.9" fill="#fff" stroke-width="1.2"/>
<circle cx="390.4" cy="218.3" r="1.9" fill="#fff" stroke-width="1.2"/>
<circle cx="406.4" cy="218.5" r="1.9" fill="#fff" stroke-width="1.2"/>
<circle cx="362.3" cy="232.3" r="1.9" fill="#fff" stroke-width="1.2"/>
<circle cx="333.1" cy="252.5" r="1.9" fill="#fff" stroke-width="1.2"/>
<circle cx="334.0" cy="257.1" r="1.9" fill="#fff" stroke-width="1.2"/>
<circle cx="374.4" cy="257.0" r="1.9" fill="#fff" stroke-width="1.2"/>
<circle cx="383.0" cy="247.3" r="1.9" fill="#fff" stroke-width="1.2"/>
<circle cx="408.4" cy="253.1" r="1.9" fill="#fff" stroke-width="1.2"/>
<circle cx="409.4" cy="256.3" r="1.9" fill="#fff" stroke-width="1.2"/>
<circle cx="364.1" cy="262.5" r="1.9" fill="#fff" stroke-width="1.2"/>
<circle cx="360.6" cy="274.2" r="1.9" fill="#fff" stroke-width="1.2"/>
<circle cx="424.6" cy="264.0" r="1.9" fill="#fff" stroke-width="1.2"/>
<circle cx="421.7" cy="267.5" r="1.9" fill="#fff" stroke-width="1.2"/>
<circle cx="385.6" cy="279.8" r="1.9" fill="#fff" stroke-width="1.2"/>
<circle cx="396.0" cy="280.8" r="1.9" fill="#fff" stroke-width="1.2"/>
<circle cx="406.7" cy="279.4" r="1.9" fill="#fff" stroke-width="1.2"/>
<circle cx="412.5" cy="276.1" r="1.9" fill="#fff" stroke-width="1.2"/>
<circle cx="416.3" cy="275.2" r="1.9" fill="#fff" stroke-width="1.2"/>
<circle cx="414.8" cy="282.1" r="1.9" fill="#fff" stroke-width="1.2"/>
<circle cx="425.2" cy="279.0" r="1.9" fill="#fff" stroke-width="1.2"/>
<circle cx="430.1" cy="279.8" r="1.9" fill="#fff" stroke-width="1.2"/>
<circle cx="436.2" cy="278.2" r="1.9" fill="#fff" stroke-width="1.2"/>
<circle cx="410.2" cy="291.1" r="1.9" fill="#fff" stroke-width="1.2"/>
<circle cx="426.9" cy="289.4" r="1.9" fill="#fff" stroke-width="1.2"/>
<circle cx="431.5" cy="291.7" r="1.9" fill="#fff" stroke-width="1.2"/>
<circle cx="445.8" cy="285.5" r="1.9" fill="#fff" stroke-width="1.2"/>
<circle cx="443.2" cy="292.4" r="1.9" fill="#fff" stroke-width="1.2"/>
<circle cx="355.8" cy="235.8" r="2.0" fill="#000" stroke="none"/>
<circle cx="418.6" cy="280.5" r="2.0" fill="#000" stroke="none"/>
<rect x="359.8" y="266.7" width="4" height="4" fill="#000" stroke="none"/>
<circle cx="119.5" cy="377.9" r="2.0" fill="#000" stroke="none"/>
<circle cx="122.9" cy="378.4" r="2.0" fill="#000" stroke="none"/>
<circle cx="139.8" cy="377.9" r="2.0" fill="#000" stroke="none"/>
<circle cx="128.7" cy="385.1" r="2.0" fill="#000" stroke="none"/>
<circle cx="140.9" cy="384.0" r="2.0" fill="#000" stroke="none"/>
<circle cx="124.9" cy="391.2" r="2.0" fill="#000" stroke="none"/>
<circle cx="138.8" cy="392.3" r="2.0" fill="#000" stroke="none"/>
<circle cx="138.8" cy="393.8" r="2.0" fill="#000" stroke="none"/>
<circle cx="129.0" cy="400.5" r="2.0" fill="#000" stroke="none"/>
<circle cx="131.1" cy="400.5" r="2.0" fill="#000" stroke="none"/>
<circle cx="136.2" cy="404.6" r="2.0" fill="#000" stroke="none"/>
<circle cx="148.1" cy="399.2" r="2.0" fill="#000" stroke="none"/>
<circle cx="140.7" cy="410.3" r="2.0" fill="#000" stroke="none"/>
<circle cx="149.3" cy="412.3" r="2.0" fill="#000" stroke="none"/>
<circle cx="123.9" cy="419.6" r="2.0" fill="#000" stroke="none"/>
<circle cx="133.5" cy="419.6" r="2.0" fill="#000" stroke="none"/>
<circle cx="140.9" cy="435.3" r="2.0" fill="#000" stroke="none"/>
<circle cx="196.6" cy="429.7" r="2.0" fill="#000" stroke="none"/>
<circle cx="133.1" cy="397.1" r="1.9" fill="#fff" stroke-width="1.2"/>
<circle cx="135.2" cy="401.2" r="1.9" fill="#fff" stroke-width="1.2"/>
<circle cx="136.2" cy="430.5" r="1.9" fill="#fff" stroke-width="1.2"/>
<circle cx="200.8" cy="362.8" r="1.9" fill="#fff" stroke-width="1.2"/>
<rect x="191.7" y="367.0" width="3.8" height="3.8" fill="#fff" stroke-width="1.2"/>
<rect x="208.6" y="367.0" width="3.8" height="3.8" fill="#fff" stroke-width="1.2"/>
<circle cx="355.6" cy="364.3" r="2.0" fill="#000" stroke="none"/>
<circle cx="409.1" cy="414.1" r="2.0" fill="#000" stroke="none"/>
<circle cx="418.6" cy="448.2" r="2.0" fill="#000" stroke="none"/>
<rect x="359.7" y="364.4" width="4" height="4" fill="#000" stroke="none"/>
<rect x="351.4" y="388.7" width="3.8" height="3.8" fill="#fff" stroke-width="1.2"/>
<circle cx="333.8" cy="375.4" r="1.9" fill="#fff" stroke-width="1.2"/>
<circle cx="337.3" cy="406.9" r="1.9" fill="#fff" stroke-width="1.2"/>
<circle cx="333.0" cy="432.3" r="1.9" fill="#fff" stroke-width="1.2"/>
<circle cx="370.4" cy="405.0" r="1.9" fill="#fff" stroke-width="1.2"/>
<circle cx="374.3" cy="408.1" r="1.9" fill="#fff" stroke-width="1.2"/>
<circle cx="406.4" cy="370.4" r="1.9" fill="#fff" stroke-width="1.2"/>
<circle cx="390.4" cy="377.5" r="1.9" fill="#fff" stroke-width="1.2"/>
<circle cx="408.3" cy="388.6" r="1.9" fill="#fff" stroke-width="1.2"/>
<circle cx="385.7" cy="393.9" r="1.9" fill="#fff" stroke-width="1.2"/>
<circle cx="421.8" cy="421.0" r="1.9" fill="#fff" stroke-width="1.2"/>
<circle cx="429.8" cy="425.1" r="1.9" fill="#fff" stroke-width="1.2"/>
<circle cx="431.7" cy="433.4" r="1.9" fill="#fff" stroke-width="1.2"/>
<circle cx="382.9" cy="427.9" r="1.9" fill="#fff" stroke-width="1.2"/>
<circle cx="406.8" cy="434.0" r="1.9" fill="#fff" stroke-width="1.2"/>
<circle cx="408.8" cy="438.3" r="1.9" fill="#fff" stroke-width="1.2"/>
<circle cx="396.4" cy="441.3" r="1.9" fill="#fff" stroke-width="1.2"/>
<circle cx="412.5" cy="443.8" r="1.9" fill="#fff" stroke-width="1.2"/>
<circle cx="414.6" cy="444.4" r="1.9" fill="#fff" stroke-width="1.2"/>
<circle cx="416.7" cy="446.1" r="1.9" fill="#fff" stroke-width="1.2"/>
<circle cx="410.0" cy="449.4" r="1.9" fill="#fff" stroke-width="1.2"/>
<circle cx="425.6" cy="445.2" r="1.9" fill="#fff" stroke-width="1.2"/>
<circle cx="426.7" cy="447.3" r="1.9" fill="#fff" stroke-width="1.2"/>
<circle cx="424.4" cy="450.5" r="1.9" fill="#fff" stroke-width="1.2"/>
<circle cx="435.9" cy="447.3" r="1.9" fill="#fff" stroke-width="1.2"/>
<circle cx="445.4" cy="450.5" r="1.9" fill="#fff" stroke-width="1.2"/>
<circle cx="436.0" cy="447.6" r="1.9" fill="#fff" stroke-width="1.2"/>
</g>
<rect x="0.5" y="0.5" width="519" height="485" fill="none" stroke="#000" stroke-width="1"/>
</svg>
</body></html>
